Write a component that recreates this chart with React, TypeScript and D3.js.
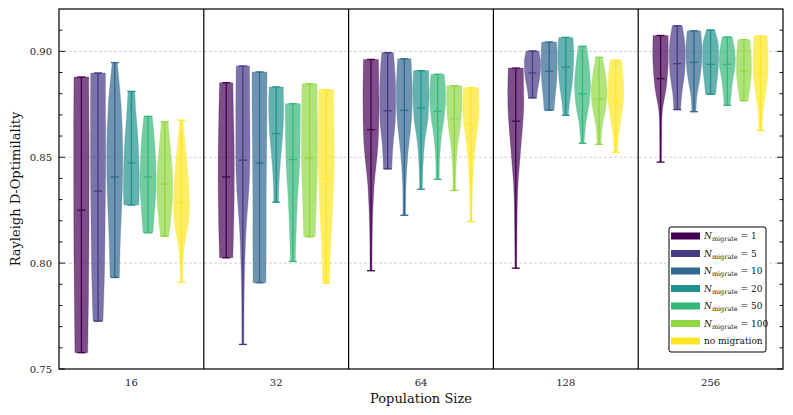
import * as d3 from 'd3';
import React from 'react';

/* Violin chart of Rayleigh D-Optimality per population size and migration setting */

const populations = ['16', '32', '64', '128', '256'];
const migrations = ['1', '5', '10', '20', '50', '100', 'none'];

// per population size, one value per migration setting
const maxValues = [
  [0.8879, 0.8898, 0.8947, 0.8811, 0.8693, 0.8667, 0.8675],
  [0.8852, 0.8931, 0.8903, 0.8832, 0.8753, 0.8847, 0.8819],
  [0.8962, 0.8994, 0.8965, 0.8909, 0.8892, 0.8838, 0.8828],
  [0.8921, 0.9002, 0.9044, 0.9066, 0.9024, 0.8972, 0.8958],
  [0.9075, 0.9121, 0.9097, 0.9101, 0.9068, 0.9055, 0.9072],
];
const minValues = [
  [0.7577, 0.7726, 0.7932, 0.8274, 0.8143, 0.8127, 0.791],
  [0.8025, 0.7616, 0.7907, 0.8288, 0.8008, 0.8124, 0.7906],
  [0.7964, 0.8445, 0.8226, 0.8349, 0.8396, 0.8343, 0.8196],
  [0.7976, 0.878, 0.8722, 0.8698, 0.8566, 0.8561, 0.8524],
  [0.8477, 0.8725, 0.8715, 0.8797, 0.8745, 0.8767, 0.8626],
];
const medianValues = [
  [0.825, 0.834, 0.8407, 0.8473, 0.8407, 0.8373, 0.8288],
  [0.8407, 0.8486, 0.8473, 0.8612, 0.8489, 0.8497, 0.8399],
  [0.863, 0.8719, 0.8722, 0.8733, 0.8717, 0.8681, 0.8654],
  [0.867, 0.8898, 0.8906, 0.8926, 0.88, 0.8775, 0.8766],
  [0.8871, 0.8942, 0.8948, 0.8939, 0.8939, 0.8909, 0.8893],
];
// relative violin widths, read from max (top) down to min (bottom) in 6 even steps
const densityProfiles = [
  [
    [0.92, 0.96, 0.96, 0.94, 0.88, 0.8],
    [0.92, 0.94, 0.94, 0.88, 0.8, 0.62],
    [0.31, 0.8, 1, 0.94, 0.72, 0.58],
    [0.42, 0.58, 0.8, 0.94, 1, 0.94],
    [0.52, 0.8, 0.96, 1, 0.83, 0.62],
    [0.42, 0.66, 0.92, 1, 0.83, 0.52],
    [0.2, 0.58, 0.92, 0.96, 0.31, 0.1],
  ],
  [
    [0.83, 0.92, 1, 1, 0.94, 0.83],
    [0.83, 0.88, 0.83, 0.38, 0.17, 0.12],
    [0.94, 0.92, 0.88, 0.83, 0.83, 0.8],
    [0.88, 0.94, 0.83, 0.58, 0.38, 0.29],
    [0.94, 0.92, 0.83, 0.58, 0.42, 0.31],
    [0.94, 0.98, 1, 0.96, 0.83, 0.73],
    [0.94, 0.98, 1, 0.83, 0.58, 0.42],
  ],
  [
    [0.94, 1, 0.88, 0.38, 0.17, 0.12],
    [0.73, 0.94, 1, 0.94, 0.66, 0.52],
    [0.83, 1, 0.88, 0.46, 0.21, 0.17],
    [0.94, 1, 0.88, 0.46, 0.25, 0.17],
    [0.83, 1, 0.83, 0.46, 0.25, 0.21],
    [0.94, 0.96, 0.73, 0.38, 0.21, 0.17],
    [0.94, 1, 0.62, 0.31, 0.17, 0.12],
  ],
  [
    [0.94, 0.98, 0.62, 0.25, 0.15, 0.1],
    [0.79, 1, 1, 0.88, 0.66, 0.52],
    [0.94, 1, 1, 0.92, 0.75, 0.62],
    [0.88, 1, 0.94, 0.79, 0.52, 0.31],
    [0.52, 0.83, 1, 0.83, 0.42, 0.21],
    [0.42, 0.79, 1, 0.79, 0.38, 0.25],
    [0.73, 0.94, 1, 0.73, 0.38, 0.21],
  ],
  [
    [0.94, 0.96, 0.73, 0.21, 0.12, 0.1],
    [0.62, 0.94, 1, 0.88, 0.58, 0.42],
    [0.83, 1, 0.96, 0.73, 0.38, 0.25],
    [0.52, 0.94, 1, 0.96, 0.79, 0.62],
    [0.62, 0.94, 1, 0.73, 0.52, 0.38],
    [0.73, 0.88, 0.94, 0.92, 0.73, 0.52],
    [0.83, 0.94, 0.92, 0.62, 0.31, 0.17],
  ],
];
const majorTicks = [0.75, 0.8, 0.85, 0.9];
const minorTicks = [0.76, 0.77, 0.78, 0.79, 0.81, 0.82, 0.83, 0.84, 0.86, 0.87, 0.88, 0.89, 0.91];

const params = {
  width: 793,
  height: 415,
  left: 59,
  right: 783,
  top: 9,
  bottom: 369,
  violinWidth: 16,
  font: '"DejaVu Serif", serif',
};

const colors = migrations.map((_, i) => d3.interpolateViridis(i / (migrations.length - 1)));

const Violin = ({ cx, g, i, yScale, wScale }) => {
  const hi = maxValues[g][i];
  const lo = minValues[g][i];
  const prof = densityProfiles[g][i];
  const pts = prof.map((w, k) => ({ v: hi - (hi - lo) * (k / (prof.length - 1)), w }));
  const area = d3
    .area<any>()
    .y((d) => yScale(d.v))
    .x0((d) => cx - wScale(d.w))
    .x1((d) => cx + wScale(d.w))
    .curve(d3.curveCatmullRom.alpha(0.5));
  const c = colors[i];
  const cap = params.violinWidth / 4;
  return (
    <g>
      <path d={area(pts)} fill={c} fillOpacity={0.7} stroke={c} strokeOpacity={0.3} strokeWidth={0.8} />
      <line x1={cx} x2={cx} y1={yScale(hi)} y2={yScale(lo)} stroke={c} strokeWidth={1.3} />
      {[hi, lo, medianValues[g][i]].map((v, k) => (
        <line key={k} x1={cx - cap} x2={cx + cap} y1={yScale(v)} y2={yScale(v)} stroke={c} strokeWidth={1.3} />
      ))}
    </g>
  );
};

export default function App() {
  const xScale = d3.scaleBand().domain(populations).range([params.left, params.right]).paddingInner(0);
  const offset = d3.scalePoint().domain(migrations).range([-50, 50]);
  const yScale = d3.scaleLinear().domain([0.75, 0.92]).range([params.bottom, params.top]);
  const wScale = d3.scaleLinear().domain([0, 1]).range([0, params.violinWidth / 2]);

  const legendX = 669;
  const legendY = 227;

  return (
    <svg
      width={params.width}
      height={params.height}
      style={{ position: 'absolute', left: 0, top: 0, background: '#fff', fontFamily: params.font }}
    >
      {/* grid */}
      {majorTicks.slice(1).map((t) => (
        <line key={t} x1={params.left} x2={params.right} y1={yScale(t)} y2={yScale(t)}
          stroke="#c8c8c8" strokeWidth={0.8} strokeDasharray="3,2" />
      ))}

      {/* violins */}
      {populations.map((p, g) => (
        <g key={p}>
          {migrations.map((m, i) => (
            <Violin key={m} cx={xScale(p) + xScale.bandwidth() / 2 + offset(m)} g={g} i={i}
              yScale={yScale} wScale={wScale} />
          ))}
        </g>
      ))}

      {/* group separators */}
      {populations.slice(1).map((p) => (
        <line key={p} x1={xScale(p)} x2={xScale(p)} y1={params.top} y2={params.bottom} stroke="#000" strokeWidth={1.2} />
      ))}

      {/* ticks */}
      {majorTicks.concat(minorTicks).map((t) => {
        const len = majorTicks.includes(t) ? 6 : 3.5;
        return (
          <g key={t}>
            <line x1={params.left} x2={params.left + len} y1={yScale(t)} y2={yScale(t)} stroke="#000" strokeWidth={0.9} />
            <line x1={params.right} x2={params.right - len} y1={yScale(t)} y2={yScale(t)} stroke="#000" strokeWidth={0.9} />
          </g>
        );
      })}
      {majorTicks.map((t) => (
        <text key={t} x={params.left - 7} y={yScale(t)} dy="0.35em" textAnchor="end" fontSize={10} fill="#222">
          {t.toFixed(2)}
        </text>
      ))}
      {populations.map((p) => (
        <text key={p} x={xScale(p) + xScale.bandwidth() / 2} y={386} textAnchor="middle" fontSize={10} fill="#222">
          {p}
        </text>
      ))}

      {/* frame */}
      <rect x={params.left} y={params.top} width={params.right - params.left} height={params.bottom - params.top}
        fill="none" stroke="#000" strokeWidth={1.2} />

      {/* axis labels */}
      <text x={(params.left + params.right) / 2} y={403} textAnchor="middle" fontSize={13} fill="#111">
        Population Size
      </text>
      <text transform={`translate(20,${(params.top + params.bottom) / 2}) rotate(-90)`} textAnchor="middle" fontSize={13} fill="#111">
        Rayleigh D-Optimilality
      </text>

      {/* legend */}
      <g transform={`translate(${legendX},${legendY})`}>
        <rect x={0} y={0} width={97} height={125} rx={2} fill="#fff" stroke="#000" strokeWidth={1} />
        {migrations.map((m, i) => (
          <g key={m} transform={`translate(0,${9 + i * 17.5})`}>
            <rect x={2} y={-3.5} width={29} height={7} fill={colors[i]} />
            {m === 'none' ? (
              <text x={35} y={0} dy="0.35em" fontSize={9} fill="#111">no migration</text>
            ) : (
              <text x={35} y={0} dy="0.35em" fontSize={9} fill="#111">
                <tspan fontStyle="italic" fill="#111">N</tspan>
                <tspan fontSize={6.5} dy={2} fill="#111">migrate</tspan>
                <tspan dy={-2} fill="#111">{` = ${m}`}</tspan>
              </text>
            )}
          </g>
        ))}
      </g>
    </svg>
  );
}
